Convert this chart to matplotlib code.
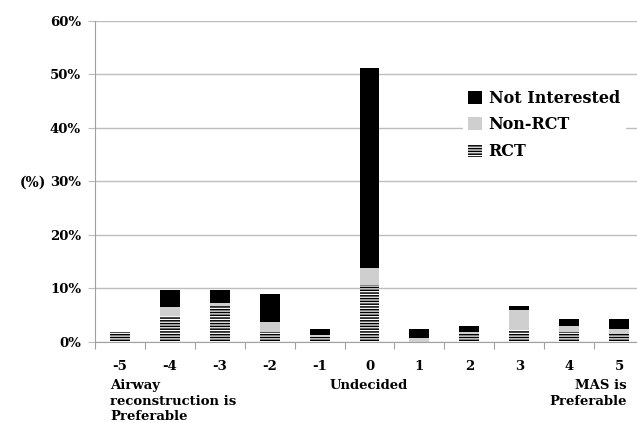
import matplotlib
matplotlib.use("Agg")
import matplotlib.pyplot as plt
from matplotlib.patches import Patch

categories = ["-5", "-4", "-3", "-2", "-1", "0", "1", "2", "3", "4", "5"]
rct = [1.8, 4.9, 6.7, 1.9, 0.9, 10.7, 0.0, 1.4, 2.2, 1.9, 1.4]
non_rct = [0.0, 1.6, 0.5, 1.7, 0.3, 3.0, 0.6, 0.4, 3.7, 1.1, 0.9]
not_interested = [0.0, 3.1, 2.4, 5.4, 1.2, 37.55, 1.8, 1.2, 0.8, 1.2, 1.9]
yticks = [0, 10, 20, 30, 40, 50, 60]

plt.rcParams['hatch.linewidth'] = 1.1
plt.rcParams['font.family'] = ['DejaVu Serif']
plt.rcParams['font.weight'] = 'bold'

fig = plt.figure(figsize=(6.37, 4.23), dpi=100)
W, H = 637, 423
ax = fig.add_axes([95 / W, (H - 341.7) / H, (644 - 95) / W, (341.7 - 21) / H])

x = list(range(len(categories)))
bw = 0.4
ax.bar(x, rct, bw, color='white', edgecolor='black', hatch='------', linewidth=0, zorder=3)
ax.bar(x, non_rct, bw, bottom=rct, color='#cfcfcf', linewidth=0, zorder=3)
bottoms = [a + b for a, b in zip(rct, non_rct)]
ax.bar(x, not_interested, bw, bottom=bottoms, color='black', linewidth=0, zorder=3)

ax.set_xlim(-0.5, len(categories) - 0.5)
ax.set_ylim(0, 60)
ax.set_yticks(yticks)
ax.set_yticklabels([f"{v}%" for v in yticks], fontsize=9.5, fontweight='bold')
ax.yaxis.grid(True, color='#bdbdbd', linewidth=1.0, zorder=0)
ax.set_axisbelow(True)

ax.set_xticks([i + 0.5 for i in range(-1, len(categories))], minor=False)
ax.set_xticklabels([])
ax.set_xticks(x, minor=True)
ax.set_xticklabels(categories, minor=True, fontsize=9.5, fontweight='bold')
ax.tick_params(axis='x', which='major', length=5, color='#a0a0a0', direction='out')
ax.tick_params(axis='x', which='minor', length=0, pad=13)
ax.tick_params(axis='y', length=5, color='#bdbdbd', pad=5)

for s in ['top', 'right']:
    ax.spines[s].set_visible(False)
ax.spines['left'].set_color('#a0a0a0')
ax.spines['bottom'].set_color('#a0a0a0')

fig.text(20 / W, 1 - 183 / H, "(%)", fontsize=10, fontweight='bold', ha='left', va='center')

fig.text(110 / W, 1 - 379 / H, "Airway\nreconstruction is\nPreferable", fontsize=9.5,
         fontweight='bold', ha='left', va='top', linespacing=1.25)
fig.text(369 / W, 1 - 379 / H, "Undecided", fontsize=9.5, fontweight='bold', ha='center', va='top')
fig.text(627 / W, 1 - 379 / H, "MAS is\nPreferable", fontsize=9.5, fontweight='bold',
         ha='right', va='top', linespacing=1.25, multialignment='right')

handles = [Patch(facecolor='black', label='Not Interested'),
           Patch(facecolor='#cfcfcf', label='Non-RCT'),
           Patch(facecolor='white', edgecolor='black', hatch='------', linewidth=0, label='RCT')]
leg = ax.legend(handles=handles, loc='upper left', bbox_to_anchor=((455 - 95) / 549, 1 - (77 - 21) / 320.7),
                frameon=True, fontsize=11.5, handlelength=0.9, handleheight=0.9,
                handletextpad=0.4, labelspacing=0.6, borderpad=0.3)
leg.get_frame().set_facecolor('white')
leg.get_frame().set_edgecolor('white')
leg.get_frame().set_alpha(1)
leg.get_frame().set_boxstyle('square', pad=0)

fig.savefig("out.png", dpi=100)
